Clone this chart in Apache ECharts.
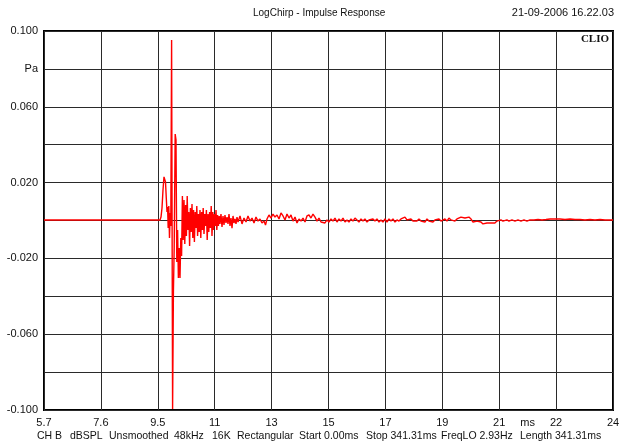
<!DOCTYPE html>
<html>
<head>
<meta charset="utf-8">
<script src="https://cdn.jsdelivr.net/npm/echarts@6/dist/echarts.min.js"></script>
<style>
  html, body { margin: 0; padding: 0; background: #fff; }
  #chart { width: 625px; height: 446px; }
</style>
</head>
<body>
<div id="chart"></div>
<script>
// Header / footer texts
const chartTitle = 'LogChirp - Impulse Response';
const timestamp = '21-09-2006 16.22.03';
const brand = 'CLIO';
const infoItems = ['CH B', 'dBSPL', 'Unsmoothed', '48kHz', '16K', 'Rectangular',
  'Start 0.00ms', 'Stop 341.31ms', 'FreqLO 2.93Hz', 'Length 341.31ms'];

// Axis labels: ten equal time divisions from 5.7 ms to 24 ms
const xTickLabels = ['5.7', '7.6', '9.5', '11', '13', '15', '17', '19', '21', '22', '24'];
const xUnit = 'ms';
const xRange = [5.7, 24];
const yTickValues = [0.1, 0.08, 0.06, 0.02, -0.02, -0.06, -0.1];
const yTickLabels = ['0.100', 'Pa', '0.060', '0.020', '-0.020', '-0.060', '-0.100'];

// Impulse response: time (ms) and pressure (Pa)
const timeMs = [
  5.700, 9.431, 9.463, 9.495, 9.527, 9.559, 9.582, 9.608, 9.633, 9.656,
  9.675, 9.694, 9.714, 9.736, 9.759, 9.778, 9.804, 9.836, 9.862, 9.887,
  9.919, 9.945, 9.971, 9.997, 10.022, 10.048, 10.074, 10.100, 10.125, 10.151,
  10.177, 10.203, 10.228, 10.254, 10.280, 10.306, 10.331, 10.357, 10.383, 10.408,
  10.434, 10.460, 10.486, 10.511, 10.537, 10.563, 10.589, 10.614, 10.640, 10.666,
  10.692, 10.717, 10.743, 10.769, 10.795, 10.820, 10.846, 10.872, 10.897, 10.923,
  10.949, 10.975, 11.000, 11.026, 11.052, 11.078, 11.103, 11.129, 11.155, 11.180,
  11.206, 11.232, 11.258, 11.283, 11.309, 11.335, 11.360, 11.392, 11.425, 11.457,
  11.489, 11.521, 11.553, 11.586, 11.618, 11.650, 11.682, 11.714, 11.747, 11.779,
  11.811, 11.843, 11.875, 11.907, 11.940, 12.004, 12.068, 12.132, 12.197, 12.261,
  12.325, 12.390, 12.454, 12.518, 12.583, 12.647, 12.711, 12.776, 12.824, 12.872,
  12.936, 13.001, 13.065, 13.129, 13.194, 13.258, 13.322, 13.387, 13.451, 13.515,
  13.580, 13.644, 13.708, 13.773, 13.837, 13.901, 13.966, 14.030, 14.094, 14.158,
  14.223, 14.287, 14.351, 14.416, 14.480, 14.544, 14.609, 14.673, 14.737, 14.801,
  14.866, 14.930, 14.994, 15.059, 15.123, 15.187, 15.252, 15.316, 15.380, 15.445,
  15.509, 15.573, 15.637, 15.702, 15.766, 15.830, 15.895, 15.959, 16.023, 16.088,
  16.152, 16.216, 16.281, 16.345, 16.409, 16.474, 16.538, 16.602, 16.666, 16.731,
  16.795, 16.859, 16.924, 16.988, 17.052, 17.117, 17.181, 17.245, 17.309, 17.374,
  17.438, 17.502, 17.567, 17.631, 17.695, 17.760, 17.824, 17.888, 17.953, 18.017,
  18.081, 18.145, 18.210, 18.274, 18.338, 18.403, 18.467, 18.531, 18.596, 18.660,
  18.724, 18.789, 18.853, 18.917, 18.982, 19.046, 19.110, 19.174, 19.239, 19.303,
  19.367, 19.432, 19.496, 19.560, 19.625, 19.689, 19.753, 19.818, 19.882, 19.946,
  20.010, 20.075, 20.139, 20.203, 20.268, 20.332, 20.396, 20.461, 20.525, 20.589,
  20.654, 20.750, 20.847, 20.944, 21.041, 21.137, 21.233, 21.330, 21.459, 21.588,
  21.717, 21.845, 21.974, 22.135, 22.295, 22.456, 22.617, 22.778, 22.939, 23.100,
  23.260, 23.421, 23.582, 23.743, 24.000
];
const pressurePa = [
  0.0003, 0.0003, 0.0018, 0.0066, 0.0161, 0.0230, 0.0240, 0.0203, 0.0119, 0.0045,
  0.0071, -0.0040, 0.0077, -0.0092, 0.0040, -0.0029, 0.0952, -0.0995, -0.0377, -0.0145,
  0.0456, 0.0425, -0.0219, -0.0050, -0.0303, -0.0145, -0.0303, -0.0092, -0.0187, 0.0129,
  -0.0103, 0.0108, -0.0124, 0.0082, -0.0082, 0.0129, -0.0050, 0.0045, -0.0135, 0.0066,
  -0.0061, 0.0087, -0.0092, 0.0055, -0.0113, 0.0045, -0.0040, 0.0077, -0.0082, 0.0034,
  -0.0061, 0.0055, -0.0092, 0.0045, -0.0050, 0.0066, -0.0071, 0.0034, -0.0029, 0.0055,
  -0.0103, 0.0034, -0.0061, 0.0045, -0.0040, 0.0077, -0.0082, 0.0045, -0.0050, 0.0034,
  -0.0029, 0.0055, -0.0050, 0.0029, -0.0029, 0.0024, -0.0018, 0.0034, -0.0034, 0.0024,
  -0.0024, 0.0029, -0.0013, 0.0018, -0.0018, 0.0034, -0.0029, 0.0013, -0.0040, 0.0024,
  -0.0013, 0.0008, -0.0018, 0.0018, -0.0008, 0.0024, -0.0018, 0.0013, -0.0008, 0.0024,
  -0.0003, 0.0013, -0.0013, 0.0018, -0.0003, 0.0008, -0.0013, -0.0003, -0.0024, 0.0008,
  0.0029, 0.0013, 0.0034, 0.0018, 0.0029, 0.0008, 0.0040, 0.0024, 0.0003, 0.0034,
  0.0013, 0.0029, -0.0003, 0.0018, -0.0013, 0.0008, -0.0003, 0.0013, -0.0008, 0.0024,
  0.0029, 0.0013, 0.0034, 0.0018, -0.0003, 0.0013, -0.0008, -0.0003, -0.0013, 0.0003,
  -0.0008, 0.0008, -0.0003, 0.0013, -0.0008, 0.0008, -0.0003, 0.0013, -0.0008, 0.0003,
  -0.0008, 0.0008, -0.0003, 0.0013, 0.0003, -0.0008, 0.0008, -0.0003, 0.0008, -0.0008,
  0.0003, -0.0003, 0.0008, -0.0003, 0.0008, -0.0008, 0.0003, -0.0008, 0.0008, -0.0008,
  0.0008, -0.0003, 0.0008, -0.0008, 0.0003, -0.0003, 0.0008, 0.0013, 0.0018, 0.0003,
  -0.0003, 0.0008, -0.0003, 0.0003, -0.0003, 0.0008, -0.0003, 0.0003, -0.0008, 0.0008,
  -0.0003, 0.0003, -0.0008, 0.0003, -0.0003, 0.0008, -0.0003, -0.0008, 0.0008, -0.0003,
  0.0013, 0.0003, 0.0008, -0.0003, 0.0008, 0.0013, 0.0018, 0.0008, 0.0013, 0.0008,
  0.0018, 0.0008, -0.0008, -0.0013, -0.0003, -0.0013, -0.0008, -0.0018, -0.0008, -0.0013,
  -0.0003, -0.0013, -0.0008, -0.0013, -0.0003, -0.0008, 0.0003, -0.0003, -0.0008, 0.0003,
  -0.0003, 0.0003, -0.0003, 0.0003, -0.0003, 0.0003, -0.0003, 0.0003, 0.0003, 0.0005,
  0.0003, 0.0005, 0.0008, 0.0008, 0.0008, 0.0005, 0.0008, 0.0005, 0.0005, 0.0003,
  0.0005, 0.0003, 0.0005, 0.0003, 0.0003
];

// Category slots for the visible time axis: one per division plus half-steps,
// so the unit can sit between two ticks.
const xSlots = [];
xTickLabels.forEach(function (lab, i) {
  xSlots.push(lab);
  if (i < xTickLabels.length - 1) xSlots.push(i === 8 ? xUnit : '');
});

const seriesData = timeMs.map(function (t, i) { return [t, pressurePa[i]]; });

const font = '"Liberation Sans", Arial, sans-serif';
const gridColor = '#2a2a2a';

const footerX = [37, 70, 109, 174, 212, 237, 299, 366, 441, 520];

const chart = echarts.init(document.getElementById('chart'), null, { renderer: 'canvas' });
chart.setOption({
  animation: false,
  backgroundColor: '#fff',
  grid: {
    left: 44, right: 12, top: 31, bottom: 36,
    show: true, borderColor: '#000', borderWidth: 2, backgroundColor: 'transparent'
  },
  xAxis: [
    {
      type: 'category',
      data: xSlots,
      boundaryGap: false,
      axisLine: { show: false },
      axisTick: { show: false },
      axisLabel: {
        interval: 0, margin: 7, color: '#111', fontFamily: font, fontSize: 11
      },
      splitLine: {
        show: true,
        interval: function (idx) { return idx % 2 === 0; },
        lineStyle: { color: gridColor, width: 1 }
      }
    },
    {
      type: 'value',
      min: xRange[0], max: xRange[1],
      show: false,
      splitLine: { show: false }
    }
  ],
  yAxis: {
    type: 'value',
    min: -0.1, max: 0.1, interval: 0.02,
    axisLine: { show: false },
    axisTick: { show: false },
    axisLabel: {
      margin: 6, color: '#111', fontFamily: font, fontSize: 11,
      formatter: function (v) {
        for (let i = 0; i < yTickValues.length; i++) {
          if (Math.abs(yTickValues[i] - v) < 1e-9) return yTickLabels[i];
        }
        return '';
      }
    },
    splitLine: { show: true, lineStyle: { color: gridColor, width: 1 } }
  },
  series: [{
    type: 'line',
    xAxisIndex: 1,
    data: seriesData,
    showSymbol: false,
    sampling: null,
    lineStyle: { color: '#ff0000', width: 1.4 },
    z: 5
  }],
  graphic: [
    { type: 'text', left: 253, top: 8,
      style: { text: chartTitle, fill: '#111', font: '10px ' + font } },
    { type: 'text', right: 11, top: 7,
      style: { text: timestamp, fill: '#111', font: '11px ' + font } },
    { type: 'text', right: 16, top: 34, z: 10,
      style: { text: brand, fill: '#111', font: 'bold 11px "Liberation Serif", "Times New Roman", serif' } }
  ].concat(infoItems.map(function (txt, i) {
    return { type: 'text', left: footerX[i], top: 431,
      style: { text: txt, fill: '#111', font: '10.5px ' + font } };
  }))
});
</script>
</body>
</html>
